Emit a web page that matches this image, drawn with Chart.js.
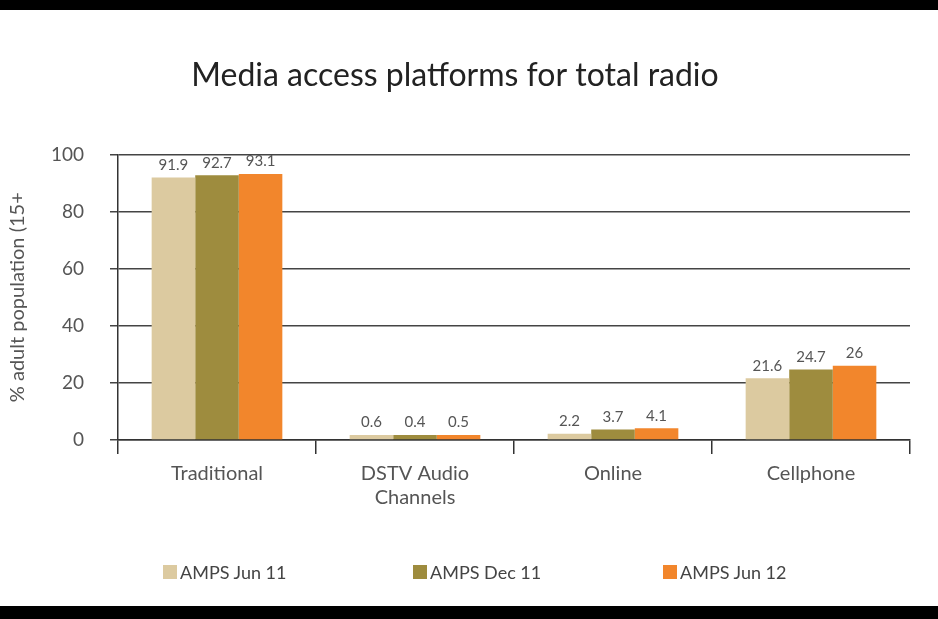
<!DOCTYPE html>
<html>
<head>
<meta charset="utf-8">
<script src="https://cdn.jsdelivr.net/npm/chart.js@4/dist/chart.umd.min.js"></script>
<style>
  html, body { margin: 0; padding: 0; background: #fff; }
  #wrap { position: relative; width: 938px; height: 619px; overflow: hidden; }
  #topbar { position: absolute; left: 0; top: 0; width: 938px; height: 10px; background: #000; }
  #botbar { position: absolute; left: 0; top: 606px; width: 938px; height: 13px; background: #000; }
  #legend { position: absolute; left: 163px; top: 561px; display: flex; font-family: Lato, sans-serif; font-size: 18px; color: #444; }
  #legend .item { width: 250px; display: flex; align-items: center; }
  #legend .box { width: 14px; height: 14px; margin-right: 3px; }
</style>
</head>
<body>
<div id="wrap">
  <canvas id="chart" width="938" height="619"></canvas>
  <div id="topbar"></div>
  <div id="botbar"></div>
  <div id="legend"></div>
</div>
<script>
const categories = ['Traditional', ['DSTV Audio', 'Channels'], 'Online', 'Cellphone'];
const seriesNames = ['AMPS Jun 11', 'AMPS Dec 11', 'AMPS Jun 12'];
const jun11 = [91.9, 0.6, 2.2, 21.6];
const dec11 = [92.7, 0.4, 3.7, 24.7];
const jun12 = [93.1, 0.5, 4.1, 26];
const colors = ['#dccaa0', '#9e8c3e', '#f2862c'];

// numbers above the bars
const valueLabels = {
  id: 'valueLabels',
  afterDatasetsDraw(chart) {
    const ctx = chart.ctx;
    ctx.save();
    ctx.font = '15px Lato, sans-serif';
    ctx.fillStyle = '#555';
    ctx.textAlign = 'center';
    ctx.textBaseline = 'bottom';
    chart.data.datasets.forEach((ds, i) => {
      chart.getDatasetMeta(i).data.forEach((bar, j) => {
        ctx.fillText(String(ds.data[j]), bar.x, bar.y - 5);
      });
    });
    ctx.restore();
  }
};

const htmlLegend = {
  id: 'htmlLegend',
  afterUpdate(chart) {
    const el = document.getElementById('legend');
    el.innerHTML = '';
    chart.data.datasets.forEach(ds => {
      const item = document.createElement('div');
      item.className = 'item';
      const box = document.createElement('span');
      box.className = 'box';
      box.style.background = ds.backgroundColor;
      const txt = document.createElement('span');
      txt.textContent = ds.label;
      item.appendChild(box);
      item.appendChild(txt);
      el.appendChild(item);
    });
  }
};

new Chart(document.getElementById('chart'), {
  type: 'bar',
  data: {
    labels: categories,
    datasets: [
      {label: seriesNames[0], data: jun11, backgroundColor: colors[0]},
      {label: seriesNames[1], data: dec11, backgroundColor: colors[1]},
      {label: seriesNames[2], data: jun12, backgroundColor: colors[2]}
    ]
  },
  options: {
    responsive: false,
    animation: false,
    layout: {padding: {left: 0, right: 28, top: 0, bottom: 0}},
    datasets: {bar: {barPercentage: 1, categoryPercentage: 0.66, minBarLength: 5}},
    plugins: {
      legend: {display: false},
      tooltip: {enabled: false},
      title: {
        display: true,
        text: 'Media access platforms for total radio',
        color: '#222',
        font: {family: 'Lato, sans-serif', size: 32, weight: 'normal'},
        padding: {top: 56, bottom: 60}
      }
    },
    scales: {
      x: {
        afterFit(scale) { scale.height = 179; },
        grid: {drawOnChartArea: false, tickLength: 14, color: '#333', lineWidth: 1.5},
        border: {color: '#333', width: 1.5},
        ticks: {color: '#555', padding: 8, font: {family: 'Lato, sans-serif', size: 20}}
      },
      y: {
        min: 0,
        max: 100,
        afterFit(scale) { scale.width = 118; },
        ticks: {stepSize: 20, color: '#555', padding: 26, font: {family: 'Lato, sans-serif', size: 19}},
        grid: {color: '#444', lineWidth: 1.5, tickLength: 8},
        border: {color: '#333', width: 1.5},
        title: {
          display: true,
          text: '% adult population (15+',
          color: '#555',
          padding: {top: 6, bottom: 0},
          font: {family: 'Lato, sans-serif', size: 20}
        }
      }
    }
  },
  plugins: [valueLabels, htmlLegend]
});
</script>
</body>
</html>
